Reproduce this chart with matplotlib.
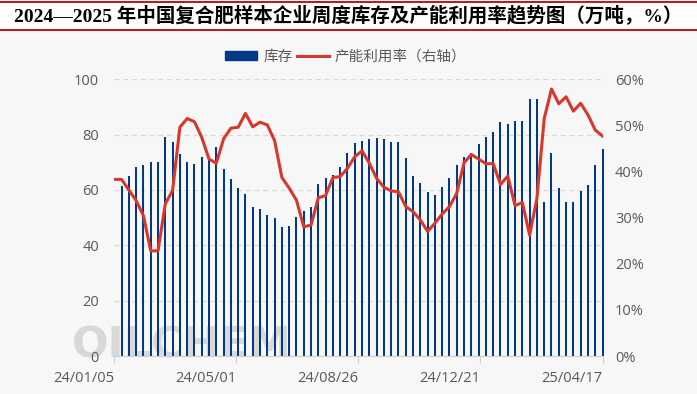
import numpy as np
import matplotlib
matplotlib.use('Agg')
import matplotlib.pyplot as plt
from matplotlib.patches import Patch, Rectangle
from matplotlib.lines import Line2D
from matplotlib.ticker import FuncFormatter

# weekly inventory (10k t), bars from week 1 on
inventory = [61.4, 65.1, 68.3, 69.0, 70.1, 70.1, 79.2, 77.5, 73.0, 70.1,
             69.4, 71.9, 71.1, 75.5, 67.7, 64.1, 60.8, 58.7, 54.0, 53.1,
             51.0, 49.9, 46.6, 47.0, 50.2, 52.4, 53.9, 62.2, 64.3, 65.4,
             68.2, 73.3, 77.0, 77.7, 78.3, 78.7, 78.3, 77.5, 77.5, 71.4,
             65.1, 62.5, 59.3, 58.2, 61.1, 64.3, 68.9, 71.9, 73.5, 76.6,
             79.3, 81.0, 84.6, 83.9, 84.9, 84.9, 92.9, 92.9, 55.7, 73.4,
             60.8, 55.7, 55.7, 59.6, 61.8, 69.0, 74.8]
# capacity utilisation (%), from week 0
utilisation = [38.3, 38.3, 36.0, 33.7, 30.4, 22.8, 22.8, 33.0, 35.9, 49.6,
               51.5, 50.8, 47.4, 42.7, 41.8, 47.1, 49.4, 49.6, 52.6, 49.7,
               50.7, 50.1, 46.7, 38.7, 36.4, 33.8, 28.0, 28.4, 34.3, 34.8,
               38.7, 38.9, 40.7, 43.2, 44.5, 41.8, 38.5, 36.6, 35.8, 35.6,
               32.4, 31.3, 29.5, 27.0, 28.8, 30.8, 32.4, 35.3, 41.9, 43.7,
               42.7, 41.7, 41.7, 37.2, 39.0, 32.6, 33.3, 26.2, 34.2, 51.5,
               57.9, 54.7, 56.2, 53.1, 54.8, 52.3, 49.0, 47.7]
date_labels = ['24/01/05', '24/05/01', '24/08/26', '24/12/21', '25/04/17']

title = '2024—2025 年中国复合肥样本企业周度库存及产能利用率趋势图（万吨，%）'

blue = '#023a88'
red = '#d8382b'
grey = '#595959'
cjk = ['Noto Sans CJK SC', 'DejaVu Sans']

fig = plt.figure(figsize=(6.97, 3.94), dpi=100)
fig.patch.set_facecolor('#f7f7f7')

# title band
fig.patches.append(Rectangle((0, 1 - 30/394), 1, 30/394, transform=fig.transFigure,
                             facecolor='#fdfdfd', edgecolor='none', zorder=0))
fig.lines.append(Line2D([0, 1], [1 - 1.5/394] * 2, transform=fig.transFigure, color='#c00000', lw=1.3))
fig.lines.append(Line2D([0, 1], [1 - 30/394] * 2, transform=fig.transFigure, color='#c00000', lw=1.3))
fig.text(0.5, 1 - 16/394, title, ha='center', va='center', fontsize=14, fontweight='bold',
         family=['Liberation Serif', 'Noto Sans CJK SC'], color='black')

ax = fig.add_axes([114.3/697, 1 - 356/394, (602.5 - 114.3)/697, (356 - 79.3)/394])
ax.set_facecolor('none')
ax2 = ax.twinx()

x_bar = np.arange(1, len(inventory) + 1)
x_line = np.arange(len(utilisation))
# thin bars: drawn as vertical lines so every bar gets the same pixel width
ax.vlines(x_bar, 0, inventory, colors=blue, lw=1.45, zorder=2, clip_on=False)
ax2.plot(x_line, utilisation, color=red, lw=2.2, zorder=3, solid_joinstyle='round')

ax.set_xlim(0, 67)
ax.set_ylim(0, 100)
ax2.set_ylim(0, 60)
ax.set_yticks(range(0, 101, 20))
ax2.set_yticks(range(0, 61, 10))
ax2.yaxis.set_major_formatter(FuncFormatter(lambda v, p: '%d%%' % v))
ax.set_xticks(np.linspace(0, 67, 5))
ax.set_xticklabels(date_labels, ha='right')

ax.grid(axis='y', color='#d9d9d9', ls=(0, (4, 3)), lw=0.9, zorder=0)
for a in (ax, ax2):
    for s in ('top', 'left', 'right'):
        a.spines[s].set_visible(False)
    a.spines['bottom'].set_color('#d0d0d0')
ax.tick_params(axis='x', length=5, color='#d0d0d0', pad=6, labelsize=10.5, labelcolor=grey)
ax.tick_params(axis='y', length=0, pad=11, labelsize=10.5, labelcolor=grey)
ax2.tick_params(axis='y', length=0, pad=9, labelsize=10.5, labelcolor=grey)
for lab in ax.get_xticklabels() + ax.get_yticklabels() + ax2.get_yticklabels():
    lab.set_family(['Open Sans', 'DejaVu Sans'])

# watermark
ax.text(72/697, 1 - 358/394, 'OILCHEM', transform=fig.transFigure, fontsize=31,
        fontweight='bold', color='#d8d8d8', ha='left', va='baseline', zorder=1, clip_on=False)

handles = [Patch(color=blue), Line2D([0], [0], color=red, lw=2.2)]
fig.legend(handles, ['库存', '产能利用率（右轴）'], loc='center', bbox_to_anchor=(0.496, 1 - 57/394),
           ncol=2, frameon=False, handlelength=2.2, handleheight=0.6, handletextpad=0.4,
           columnspacing=0.3, prop={'family': cjk, 'size': 10.5}, labelcolor=grey)

fig.savefig('out.png', dpi=100, facecolor=fig.get_facecolor())
